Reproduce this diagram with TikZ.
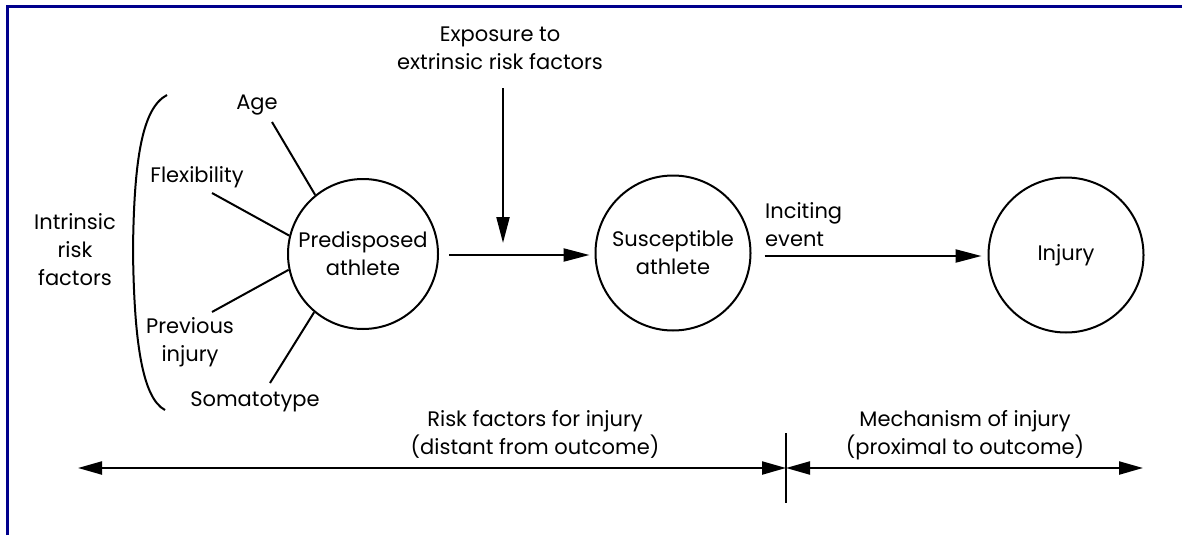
\documentclass[tikz,border=0pt]{standalone}
\usepackage{fontspec}
\setmainfont{Poppins}
\usetikzlibrary{arrows.meta}
\definecolor{framenavy}{RGB}{0,0,140}
\tikzset{
  lbl/.style={font=\fontsize{21}{28}\selectfont, align=center, inner sep=0pt},
  state/.style={circle, draw, line width=2pt, minimum size=152pt, inner sep=0pt, font=\fontsize{21}{28}\selectfont, align=center},
  spoke/.style={line width=2pt},
  flow/.style={line width=2.2pt, -{Triangle[length=26pt,width=13pt]}},
  span/.style={line width=2.2pt, {Triangle[length=24pt,width=13pt]}-{Triangle[length=24pt,width=13pt]}},
}
\begin{document}
\begin{tikzpicture}[x=1pt,y=-1pt]
\useasboundingbox (0,0) rectangle (1182,535);
% frame
\draw[framenavy, line width=3pt] (7,535) -- (7,7) -- (1182,7);

% circles
\node[state, minimum size=150pt] (pa) at (363,254) {Predisposed\\athlete};
\node[state, minimum size=155pt] (sa) at (673,253) {Susceptible\\athlete};
\node[state, minimum size=155pt] (inj) at (1066,255) {Injury};

% intrinsic factors
\node[lbl] (age) at (257,105) {Age};
\node[lbl] (flex) at (197,177) {Flexibility};
\node[lbl] (prev) at (190,342) {Previous\\injury};
\node[lbl] (soma) at (255,402) {Somatotype};
\node[lbl] (intr) at (75,250) {Intrinsic\\risk\\factors};

\coordinate (agec) at (272,122);
\coordinate (flexc) at (212,193);
\coordinate (prevc) at (212,312);
\coordinate (somac) at (270,383);
\draw[spoke] (agec) -- (pa.129);
\draw[spoke] (flexc) -- (pa.166);
\draw[spoke] (prevc) -- (pa.192);
\draw[spoke] (somac) -- (pa.230);

% bracket
\coordinate (brt) at (167,95);
\coordinate (brm) at (133,250);
\coordinate (brb) at (165,410);
\draw[line width=2pt] (brt) .. controls (142,108) and (134,160) .. (brm)
  .. controls (134,340) and (142,398) .. (brb);

% extrinsic
\node[lbl] (expo) at (500,48) {Exposure to\\extrinsic risk factors};
\coordinate (exs) at (503,88);
\coordinate (exe) at (503,243);
\draw[flow] (exs) -- (exe);

\draw[flow, shorten <=10pt, shorten >=5pt] (pa.east |- 0,255) -- (sa.west |- 0,255);

\node[lbl, align=left, anchor=west] (inc) at (765,225) {Inciting\\event};
\draw[flow, shorten <=13pt, shorten >=6pt] (sa.east |- 0,256) -- (inj.west |- 0,256);

% bottom spans
\coordinate (bl) at (78,468);
\coordinate (bm) at (786,468);
\coordinate (br) at (1143,468);
\coordinate (tt) at (786,433);
\coordinate (tb) at (786,503);
\draw[line width=2pt] (tt) -- (tb);
\draw[span] (bl) -- (bm);
\draw[span] (bm) -- (br);
\node[lbl] (rf) at (535,434) {Risk factors for injury\\(distant from outcome)};
\node[lbl] (mech) at (965,435) {Mechanism of injury\\(proximal to outcome)};
\end{tikzpicture}
\end{document}
